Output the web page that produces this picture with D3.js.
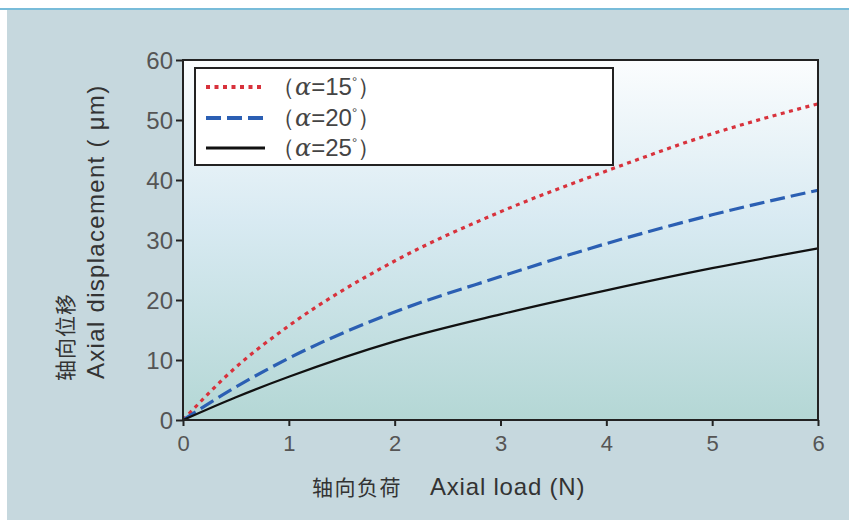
<!DOCTYPE html>
<html><head><meta charset="utf-8">
<script src="https://cdn.jsdelivr.net/npm/d3@7"></script>
<style>body{margin:0;background:#fff;}svg{display:block;}</style>
</head><body>
<svg id="c" width="849" height="520"></svg>
<script>
const loads = [0, 0.5, 1, 2, 3, 4, 5, 6];
const alpha15 = [0, 8.8, 15.7, 26.5, 34.7, 41.5, 47.7, 52.7];
const alpha20 = [0, 5.5, 10.3, 18.0, 23.9, 29.4, 34.2, 38.3];
const alpha25 = [0, 3.8, 7.2, 13.1, 17.6, 21.6, 25.3, 28.6];
const xTicks = [0, 1, 2, 3, 4, 5, 6];
const yTicks = [0, 10, 20, 30, 40, 50, 60];
const seriesNames = ["15", "20", "25"];

const svg = d3.select("#c");
const defs = svg.append("defs");
const pg = defs.append("linearGradient").attr("id","pg").attr("x1",0).attr("y1",0).attr("x2",0).attr("y2",1);
pg.append("stop").attr("offset","0%").attr("stop-color","#fbfdfe");
pg.append("stop").attr("offset","45%").attr("stop-color","#d8eaf2");
pg.append("stop").attr("offset","100%").attr("stop-color","#b4d7d5");

// page background
svg.append("rect").attr("x",0).attr("y",0).attr("width",849).attr("height",520).attr("fill","#ffffff");
svg.append("rect").attr("x",7).attr("y",9).attr("width",842).attr("height",511).attr("fill","#c6d8de");
svg.append("rect").attr("x",0).attr("y",8).attr("width",849).attr("height",2).attr("fill","#78bcd9");

const x = d3.scaleLinear().domain([0,6]).range([183,818]);
const y = d3.scaleLinear().domain([0,60]).range([420,60]);

svg.append("rect").attr("x",x(0)).attr("y",y(60)).attr("width",x(6)-x(0)).attr("height",y(0)-y(60)).attr("fill","url(#pg)");

const font = "'Liberation Sans', Arial, sans-serif";

const xa = svg.append("g").attr("transform",`translate(0,${y(0)})`)
  .call(d3.axisBottom(x).tickValues(xTicks).tickFormat(d3.format("d")).tickSize(6).tickPadding(6));
const ya = svg.append("g").attr("transform",`translate(${x(0)},0)`)
  .call(d3.axisLeft(y).tickValues(yTicks).tickFormat(d3.format("d")).tickSize(7).tickPadding(3));
[xa, ya].forEach(a => {
  a.select(".domain").remove();
  a.selectAll(".tick line").attr("stroke","#222").attr("stroke-width",2);
  a.selectAll(".tick text").attr("fill","#555").style("font-family",font);
});
xa.selectAll(".tick text").style("font-size","22px").attr("dy","0.85em");
ya.selectAll(".tick text").style("font-size","24px").attr("dy","0.36em");

// curves
const line = d3.line().x((d,i)=>x(loads[i])).y(d=>y(d)).curve(d3.curveMonotoneX);
const styles = [
  {data: alpha15, color:"#d8323c", dash:"4,4.5", w:3.2},
  {data: alpha20, color:"#2b5fb3", dash:"15,6", w:3.2},
  {data: alpha25, color:"#111111", dash:null, w:2.2}
];
styles.forEach(s => {
  svg.append("path").attr("d", line(s.data)).attr("fill","none")
    .attr("stroke", s.color).attr("stroke-width", s.w)
    .attr("stroke-dasharray", s.dash);
});

// frame
svg.append("rect").attr("x",x(0)).attr("y",y(60)).attr("width",x(6)-x(0)).attr("height",y(0)-y(60))
  .attr("fill","none").attr("stroke","#222").attr("stroke-width",2);

// legend
const lg = svg.append("g");
lg.append("rect").attr("x",195).attr("y",68).attr("width",418).attr("height",97)
  .attr("fill","#ffffff").attr("stroke","#222").attr("stroke-width",2);
const rowY = [87, 118, 148];
styles.forEach((s,i) => {
  lg.append("line").attr("x1",206).attr("x2",265).attr("y1",rowY[i]).attr("y2",rowY[i])
    .attr("stroke",s.color).attr("stroke-width",s.w+0.6).attr("stroke-dasharray",s.dash);
  const t = lg.append("text").attr("x",271).attr("y",rowY[i]+8)
    .style("font-family",font).style("font-size","24px").attr("fill","#444");
  t.append("tspan").text("（");
  t.append("tspan").text("α").style("font-style","italic").style("font-family","'DejaVu Serif', serif");
  t.append("tspan").text("=" + seriesNames[i]);
  t.append("tspan").text("°").style("font-size","13px").attr("dy","-9");
  t.append("tspan").text("）").attr("dy","9");
});

// axis titles
svg.append("text").attr("transform","translate(73,381) rotate(-90)")
  .style("font-family","'Noto Sans CJK SC', sans-serif").style("font-size","21px").attr("fill","#333")
  .style("letter-spacing","1px")
  .text("轴向位移");
svg.append("text").attr("transform","translate(104,379) rotate(-90)")
  .style("font-family",font).style("font-size","24px").attr("fill","#333")
  .style("letter-spacing","1.3px")
  .text("Axial displacement ( μm)");
svg.append("text").attr("x",312).attr("y",495)
  .style("font-family","'Noto Sans CJK SC', sans-serif").style("font-size","21px").attr("fill","#333")
  .style("letter-spacing","1.5px")
  .text("轴向负荷");
svg.append("text").attr("x",430).attr("y",495)
  .style("font-family",font).style("font-size","24px").attr("fill","#333")
  .style("letter-spacing","0.8px")
  .text("Axial load (N)");
</script>
</body></html>
